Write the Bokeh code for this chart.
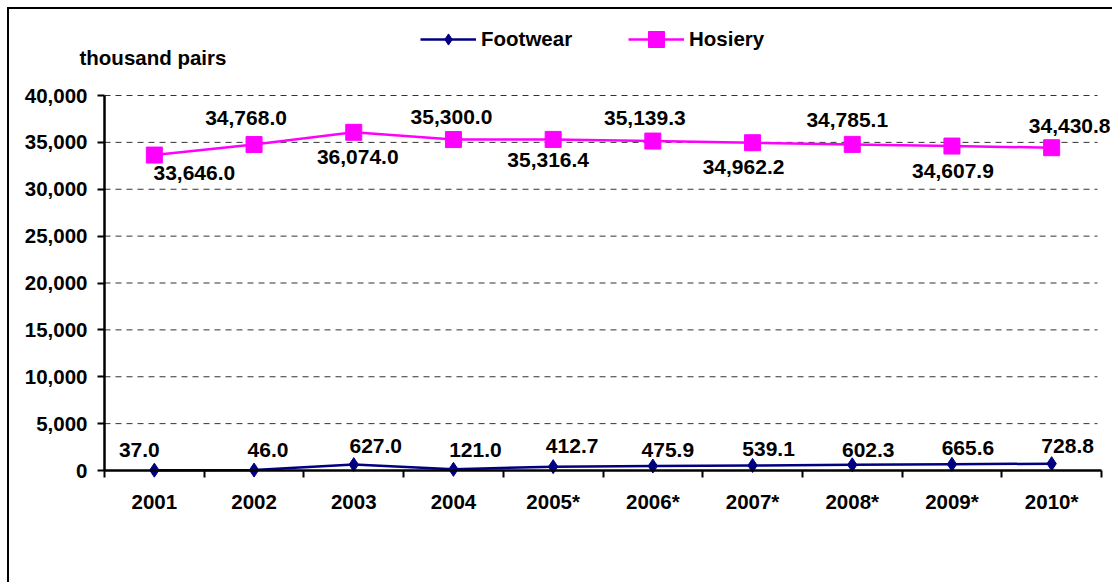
from bokeh.plotting import figure
from bokeh.models import (ColumnDataSource, FixedTicker, Legend, LegendItem, Label,
                          Range1d, NumeralTickFormatter, LinearAxis)
from bokeh.core.properties import value
from bokeh.embed import file_html
from bokeh.resources import INLINE

years = ["2001", "2002", "2003", "2004", "2005*", "2006*", "2007*", "2008*", "2009*", "2010*"]
footwear = [37.0, 46.0, 627.0, 121.0, 412.7, 475.9, 539.1, 602.3, 665.6, 728.8]
hosiery = [33646.0, 34768.0, 36074.0, 35300.0, 35316.4, 35139.3, 34962.2, 34785.1, 34607.9, 34430.8]
y_ticks = [0, 5000, 10000, 15000, 20000, 25000, 30000, 35000, 40000]
unit_label = "thousand pairs"

# label placement in pixels (styling)
fw_dx = [-15, 14, 22, 22, 19, 15, 16, 16, 16, 16]
fw_dy = [-20, -20, -19, -19, -21, -16, -16, -15, -16, -18]
ho_dx = [40, -8, 4, -2, -5, -8, -9, -5, 1, 18]
ho_dy = [17.5, -26.5, 24.5, -22.5, 20.5, -23.5, 24, -24.5, 25, -21.5]

FONT = "Liberation Sans"
FS = "20.5px"
LFS = "21px"

# layout (page pixels)
W, H = 1105, 575            # canvas size; canvas starts at page (9, 9)
X0 = 9                      # canvas left/top on page
AX_L, AX_R = 104, 1101      # plotted category span
AX_T, AX_B = 95, 470        # plotted value span (40,000 .. 0)
BOTTOM = X0 + H
n = len(years)
ymax = y_ticks[-1]
ppx = (AX_R - AX_L) / n
ppy = (AX_B - AX_T) / ymax
x_start = -(AX_L - X0) / ppx
x_end = n + (X0 + W - AX_R) / ppx
y_end = (AX_B - X0) / ppy
y_start = -(BOTTOM - AX_B) / ppy

xs = [i + 0.5 for i in range(n)]

p = figure(width=W, height=H, output_backend="svg", toolbar_location=None,
           x_range=Range1d(x_start, x_end), y_range=Range1d(y_start, y_end),
           x_axis_location=None, y_axis_location=None,
           min_border_left=0, min_border_right=0, min_border_top=0, min_border_bottom=0,
           background_fill_color="white", border_fill_color="white")
p.styles = {"border-left": "2px solid black", "border-top": "2px solid black",
            "margin-left": "7px", "margin-top": "7px"}
p.outline_line_color = None
for g in p.grid:
    g.visible = False

xa = LinearAxis(fixed_location=0, bounds=(0, n))
ya = LinearAxis(fixed_location=0, bounds=(0, ymax))
p.add_layout(xa, "below")
p.add_layout(ya, "left")

xa.ticker = FixedTicker(ticks=xs, minor_ticks=list(range(n + 1)))
xa.major_label_overrides = {x: y for x, y in zip(xs, years)}
xa.major_tick_out = 0
xa.major_tick_in = 0
xa.minor_tick_out = 7
xa.minor_tick_in = 0
xa.minor_tick_line_width = 2
xa.minor_tick_line_color = "black"
xa.major_label_standoff = 12

ya.ticker = FixedTicker(ticks=y_ticks)
ya.formatter = NumeralTickFormatter(format="0,0")
ya.major_tick_out = 7
ya.major_tick_in = 0
ya.minor_tick_out = 0
ya.minor_tick_in = 0
ya.major_label_standoff = 10
ya.major_tick_line_width = 2

for ax in (xa, ya):
    ax.axis_line_width = 2.5
    ax.axis_line_color = "black"
    ax.major_tick_line_color = "black"
    ax.major_label_text_font = FONT
    ax.major_label_text_font_style = "bold"
    ax.major_label_text_font_size = FS
    ax.major_label_text_color = "black"

# horizontal gridlines spanning the category area only
p.segment(x0=[0] * (len(y_ticks) - 1), x1=[n - 0.04] * (len(y_ticks) - 1),
          y0=y_ticks[1:], y1=y_ticks[1:], line_color="#333333",
          line_dash="6 5", line_width=1, level="underlay")

fsrc = ColumnDataSource(dict(x=xs, y=footwear, t=[f"{v:,.1f}" for v in footwear], dx=fw_dx, dy=fw_dy))
hsrc = ColumnDataSource(dict(x=xs, y=hosiery, t=[f"{v:,.1f}" for v in hosiery], dx=ho_dx, dy=ho_dy))

fl = p.line("x", "y", source=fsrc, line_color="#000080", line_width=2.5)
fm = p.scatter("x", "y", source=fsrc, marker="diamond", size=14, fill_color="#000080", line_color="#000080")
hl = p.line("x", "y", source=hsrc, line_color="#FF00FF", line_width=2.5)
hm = p.scatter("x", "y", source=hsrc, marker="square", size=16, fill_color="#FF00FF", line_color="#FF00FF")

for src in (fsrc, hsrc):
    p.text("x", "y", text="t", source=src, x_offset="dx", y_offset="dy",
           text_font=value(FONT), text_font_style="bold", text_font_size=LFS,
           text_color="black", text_align="center", text_baseline="middle")

LEG_CY = 39
legend_specs = [("Footwear", [fl, fm], 420, 28), ("Hosiery", [hl, hm], 628, 40)]
for lab, rends, lx, gh in legend_specs:
    lg = Legend(items=[LegendItem(label=lab, renderers=rends)],
                orientation="horizontal", location=(lx - X0, BOTTOM - LEG_CY - gh / 2),
                glyph_width=56, glyph_height=gh, label_standoff=5,
                padding=0, margin=0, border_line_color=None, background_fill_alpha=0,
                label_text_font=FONT, label_text_font_style="bold", label_text_font_size=FS,
                label_text_color="black")
    p.add_layout(lg, "center")

p.add_layout(Label(x=79 - X0, y=BOTTOM - 57, x_units="screen", y_units="screen", text=unit_label,
                   text_font=FONT, text_font_style="bold", text_font_size=FS,
                   text_color="black", text_baseline="alphabetic"))

open("out.html", "w").write(file_html(p, INLINE))
